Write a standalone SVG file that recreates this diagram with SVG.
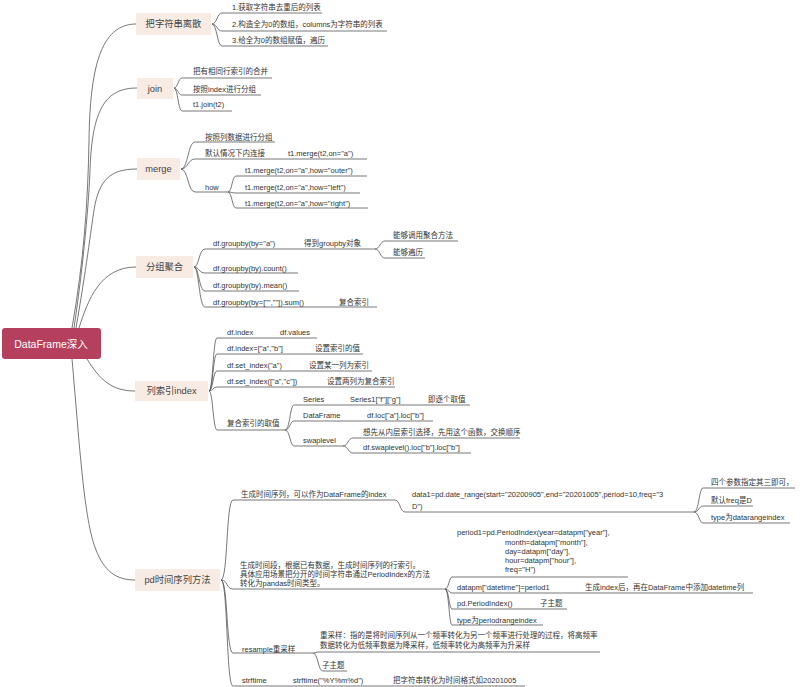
<svg xmlns="http://www.w3.org/2000/svg" width="800" height="687" viewBox="0 0 800 687">
<style>
text{font-family:"Liberation Sans","Noto Sans CJK SC",sans-serif;dominant-baseline:central}
.t{font-size:7.5px;fill:#333}
.n1{font-size:9.3px;fill:#444;text-anchor:middle}
.r{font-size:10.5px;fill:#fff;text-anchor:middle}
.box{fill:#f8ebe4}
.ln{fill:none;stroke:#555;stroke-width:0.8}
</style>
<rect width="800" height="687" fill="#fff"/>
<g id="connectors" class="ln">
<path d="M 72 328 C 84 260, 88 200, 89 140 C 90 70, 100 24, 136 24"/>
<path d="M 74 328 C 84 260, 89 200, 90 170 C 92 110, 105 88, 137 88"/>
<path d="M 76 328 C 86 270, 91 230, 94 210 C 99 180, 110 169, 137 169"/>
<path d="M 79 328 C 88 300, 100 267, 136 267"/>
<path d="M 87 359 C 100 380, 112 391, 135 391"/>
<path d="M 72 359 C 80 450, 84 520, 96 550 C 104 570, 115 580, 135 580"/>
<path d="M 212 24 C 217 24, 217 13, 222 13 H 322"/>
<path d="M 212 24 C 217 24, 217 31, 222 31 H 387"/>
<path d="M 212 24 C 217 24, 217 46, 222 46 H 328"/>
<path d="M 174 88 C 178 88, 178 78, 182 78 H 272"/>
<path d="M 174 88 C 178 88, 178 95, 182 95 H 261"/>
<path d="M 174 88 C 178 88, 178 111, 182 111 H 232"/>
<path d="M 181 169 C 188 169, 188 142, 195 142 H 275"/>
<path d="M 181 169 C 188 169, 188 159, 195 159 H 367"/>
<path d="M 181 169 C 188 169, 188 192, 195 192 H 228"/>
<path d="M 228 192 C 232 192, 232 176, 236 176 H 367"/>
<path d="M 228 192 C 232 192, 232 193, 236 193 H 360"/>
<path d="M 228 192 C 232 192, 232 208, 236 208 H 368"/>
<path d="M 194 267 C 199 267, 199 249, 205 249 H 375"/>
<path d="M 194 267 C 199 267, 199 273, 205 273 H 298"/>
<path d="M 194 267 C 199 267, 199 291, 205 291 H 299"/>
<path d="M 194 267 C 199 267, 199 307, 205 307 H 377"/>
<path d="M 375 249 C 380 249, 380 241, 385 241 H 458"/>
<path d="M 375 249 C 380 249, 380 258, 385 258 H 425"/>
<path d="M 209 391 C 213 391, 213 338, 217 338 H 317"/>
<path d="M 209 391 C 213 391, 213 354, 217 354 H 363"/>
<path d="M 209 391 C 213 391, 213 371, 217 371 H 372"/>
<path d="M 209 391 C 213 391, 213 387, 217 387 H 395"/>
<path d="M 209 391 C 213 391, 213 430, 217 430 H 285"/>
<path d="M 285 430 C 290 430, 290 405, 294 405 H 470"/>
<path d="M 285 430 C 290 430, 290 421, 294 421 H 433"/>
<path d="M 285 430 C 290 430, 290 446, 294 446 H 343"/>
<path d="M 343 446 C 348 446, 348 438, 353 438 H 520"/>
<path d="M 343 446 C 348 446, 348 453, 353 453 H 471"/>
<path d="M 221 580 C 228 580, 226 500, 233 500 H 395"/>
<path d="M 221 580 C 228 580, 226 589, 233 589 H 445"/>
<path d="M 221 580 C 228 580, 226 653, 233 653 H 313"/>
<path d="M 221 580 C 228 580, 226 686, 233 686 H 525"/>
<path d="M 395 500 C 400 500, 400 512, 405 512 H 694"/>
<path d="M 694 512 C 699 512, 699 488, 703 488 H 795"/>
<path d="M 694 512 C 699 512, 699 506, 703 506 H 753"/>
<path d="M 694 512 C 699 512, 699 523, 703 523 H 790"/>
<path d="M 445 589 C 449 589, 449 577, 452 577 H 628"/>
<path d="M 445 589 C 449 589, 449 593, 452 593 H 753"/>
<path d="M 445 589 C 449 589, 449 609, 452 609 H 567"/>
<path d="M 445 589 C 449 589, 449 625, 452 625 H 543"/>
<path d="M 313 653 C 316 653, 316 652, 319 652 H 600"/>
<path d="M 313 653 C 318 653, 318 671, 323 671 H 347"/>
</g>
<g id="root">
<rect x="2" y="328" width="99" height="31" rx="3" fill="#b5405e"/>
<text class="r" x="51" y="344">DataFrame深入</text>
</g>
<g id="n-lisan">
<rect class="box" x="136" y="13" width="75" height="22"/>
<text class="n1" x="173.5" y="24">把字符串离散</text>
<text class="t" x="232" y="7">1.获取字符串去重后的列表</text>
<text class="t" x="232" y="24">2.构造全为0的数组，columns为字符串的列表</text>
<text class="t" x="232" y="40">3.给全为0的数组赋值，遍历</text>
</g>
<g id="n-join">
<rect class="box" x="137" y="78" width="36" height="21"/>
<text class="n1" x="155" y="88.5">join</text>
<text class="t" x="193" y="71">把有相同行索引的合并</text>
<text class="t" x="193" y="89">按照index进行分组</text>
<text class="t" x="193" y="104">t1.join(t2)</text>
</g>
<g id="n-merge">
<rect class="box" x="137" y="158" width="43" height="22"/>
<text class="n1" x="158.5" y="169">merge</text>
<text class="t" x="205" y="137">按照列数据进行分组</text>
<text class="t" x="205" y="153">默认情况下内连接</text>
<text class="t" x="288" y="153">t1.merge(t2,on="a")</text>
<text class="t" x="205" y="187">how</text>
<text class="t" x="245" y="170">t1.merge(t2,on="a",how="outer")</text>
<text class="t" x="245" y="187">t1.merge(t2,on="a",how="left")</text>
<text class="t" x="245" y="203">t1.merge(t2,on="a",how="right")</text>
</g>
<g id="n-groupby">
<rect class="box" x="136" y="256" width="57" height="22"/>
<text class="n1" x="164.5" y="267">分组聚合</text>
<text class="t" x="213" y="243">df.groupby(by="a")</text>
<text class="t" x="304" y="243">得到groupby对象</text>
<text class="t" x="393" y="235">能够调用聚合方法</text>
<text class="t" x="393" y="252">能够遍历</text>
<text class="t" x="213" y="268">df.groupby(by).count()</text>
<text class="t" x="213" y="285">df.groupby(by).mean()</text>
<text class="t" x="213" y="302">df.groupby(by=["",""]).sum()</text>
<text class="t" x="339" y="302">复合索引</text>
</g>
<g id="n-index">
<rect class="box" x="135" y="381" width="73" height="20"/>
<text class="n1" x="171.5" y="391">列索引index</text>
<text class="t" x="227" y="332">df.index</text>
<text class="t" x="280" y="332">df.values</text>
<text class="t" x="227" y="348">df.index=["a","b"]</text>
<text class="t" x="315" y="348">设置索引的值</text>
<text class="t" x="227" y="365">df.set_index("a")</text>
<text class="t" x="309" y="365">设置某一列为索引</text>
<text class="t" x="227" y="381">df.set_index(["a","c"])</text>
<text class="t" x="327" y="381">设置两列为复合索引</text>
<text class="t" x="227" y="423">复合索引的取值</text>
<text class="t" x="303" y="399">Series</text>
<text class="t" x="350" y="399">Series1["f"]["g"]</text>
<text class="t" x="428" y="399">即逐个取值</text>
<text class="t" x="303" y="415">DataFrame</text>
<text class="t" x="367" y="415">df.loc["a"].loc["b"]</text>
<text class="t" x="303" y="440">swaplevel</text>
<text class="t" x="363" y="432">想先从内层索引选择，先用这个函数，交换顺序</text>
<text class="t" x="363" y="447">df.swaplevel().loc["b"].loc["b"]</text>
</g>
<g id="n-time">
<rect class="box" x="135" y="569" width="85" height="22"/>
<text class="n1" x="177.5" y="580">pd时间序列方法</text>
<text class="t" x="241" y="494">生成时间序列，可以作为DataFrame的index</text>
<text class="t" x="412" y="494">data1=pd.date_range(start="20200905",end="20201005",period=10,freq="3</text>
<text class="t" x="412" y="506">D")</text>
<text class="t" x="711" y="482">四个参数指定其三即可，</text>
<text class="t" x="711" y="500">默认freq是D</text>
<text class="t" x="711" y="517">type为datarangeindex</text>
<text class="t" x="240" y="565">生成时间段，根据已有数据，生成时间序列的行索引。</text>
<text class="t" x="240" y="574">具体应用场景把分开的时间字符串通过PeriodIndex的方法</text>
<text class="t" x="240" y="583">转化为pandas时间类型。</text>
<text class="t" x="457" y="532">period1=pd.PeriodIndex(year=datapm["year"],</text>
<text class="t" x="505" y="542">month=datapm["month"],</text>
<text class="t" x="505" y="551">day=datapm["day"],</text>
<text class="t" x="505" y="560">hour=datapm["hour"],</text>
<text class="t" x="505" y="569">freq="H")</text>
<text class="t" x="457" y="587">datapm["datetime"]=period1</text>
<text class="t" x="585" y="587">生成index后，再在DataFrame中添加datetime列</text>
<text class="t" x="457" y="603">pd.PeriodIndex()</text>
<text class="t" x="540" y="603">子主题</text>
<text class="t" x="457" y="620">type为periodrangeindex</text>
<text class="t" x="242" y="649">resample重采样</text>
<text class="t" x="320" y="635">重采样：指的是将时间序列从一个频率转化为另一个频率进行处理的过程，将高频率</text>
<text class="t" x="320" y="645">数据转化为低频率数据为降采样，低频率转化为高频率为升采样</text>
<text class="t" x="322" y="665">子主题</text>
<text class="t" x="242" y="680">strftime</text>
<text class="t" x="293" y="680">strftime("%Y%m%d")</text>
<text class="t" x="393" y="680">把字符串转化为时间格式如20201005</text>
</g>
</svg>
